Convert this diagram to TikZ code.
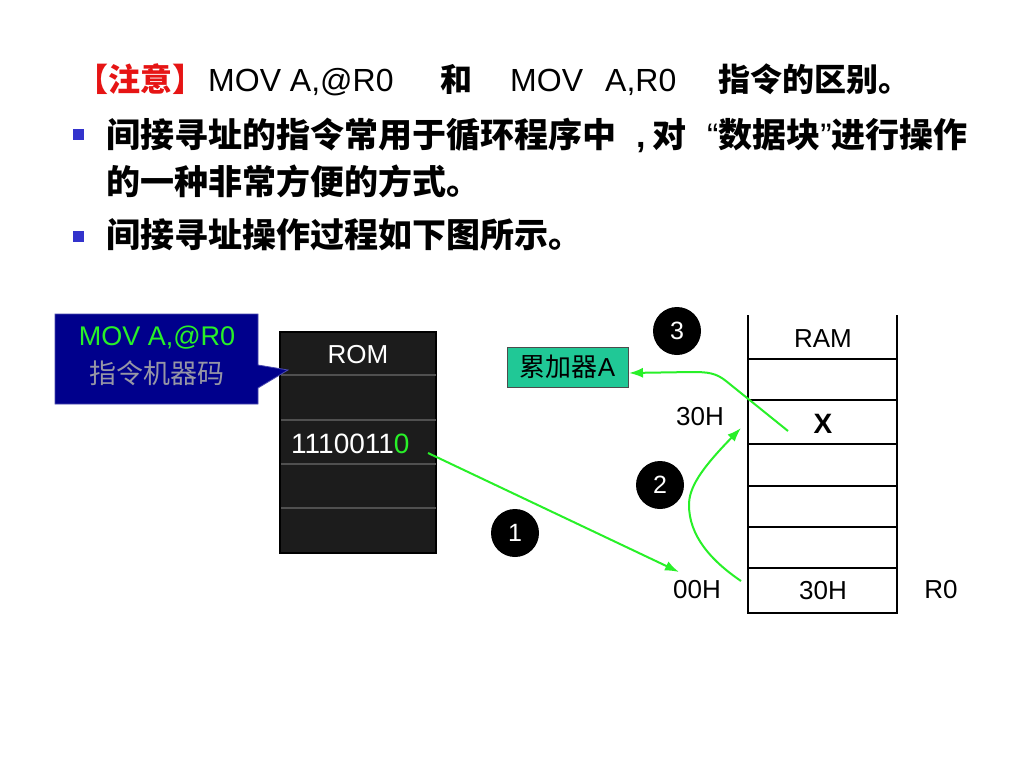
\documentclass[tikz,border=0pt]{standalone}
\usepackage{fontspec}
\setmainfont{Liberation Sans}
\newfontfamily\cjk{Noto Sans CJK SC}
\usetikzlibrary{arrows.meta}
\definecolor{titlered}{RGB}{230,20,20}
\definecolor{bulletblue}{RGB}{51,51,204}
\definecolor{calloutblue}{RGB}{0,0,140}
\definecolor{brightgreen}{RGB}{40,240,40}
\definecolor{accteal}{RGB}{32,200,150}
\definecolor{romfill}{RGB}{28,28,28}
\definecolor{romline}{RGB}{80,80,80}
\definecolor{embossgray}{RGB}{150,150,165}
\tikzset{
  big/.style={inner sep=0pt, font=\fontsize{32}{38}\selectfont, anchor=base west},
  bul/.style={inner sep=0pt, font=\fontsize{34}{40}\selectfont, anchor=base west},
  bsq/.style={fill=bulletblue, minimum size=11pt, inner sep=0pt},
  lbl/.style={inner sep=0pt, font=\fontsize{26}{30}\selectfont},
  numcirc/.style={circle, fill=black, minimum size=48pt, inner sep=0pt, text=white, font=\fontsize{25}{28}\selectfont},
  garrow/.style={draw=brightgreen, line width=2pt, -{Latex[length=14pt,width=10pt]}},
  ramv/.style={line width=2.6pt},
  ramh/.style={line width=1.6pt},
}
\begin{document}
\begin{tikzpicture}[x=1pt,y=-1pt]
\useasboundingbox[fill=white] (0,0) rectangle (1024,768);

% title line
\node[big, text=titlered] (t1) at (76,91) {\cjk\bfseries 【注意】};
\node[big] (t2) at (208,91) {MOV A,@R0};
\node[big] (t3) at (440,91) {\cjk\bfseries 和};
\node[big] (t4) at (510,91) {MOV};
\node[big] (t5) at (605,91) {A,R0};
\node[big] (t6) at (718,91) {\cjk\bfseries 指令的区别。};

% bullets
\node[bsq] (b1) at (78,134) {};
\node[bul] (l1a) at (106,147) {\cjk\bfseries 间接寻址的指令常用于循环程序中};
\node[bul] (l1c) at (636,147) {\bfseries ,};
\node[bul] (l1d) at (652,147) {\cjk\bfseries 对};
\node[bul, anchor=base east] (l1b) at (968,147) {“{\cjk\bfseries 数据块}”{\cjk\bfseries 进行操作}};
\node[bul] (l2) at (106,194) {\cjk\bfseries 的一种非常方便的方式。};
\node[bsq] (b2) at (78,236) {};
\node[bul] (l3) at (106,247) {\cjk\bfseries 间接寻址操作过程如下图所示。};

% ROM
\node[draw=black, line width=2pt, fill=romfill, minimum width=156pt, minimum height=221pt, inner sep=0pt] (rom) at (358,442.5) {};
\foreach \yy in {375,420,464,508}
  \draw[romline, line width=1.2pt] (281,\yy) -- (436,\yy);
\node[lbl, text=white] (romt) at (358,355) {ROM};
\node[lbl, text=white, anchor=base west, font=\fontsize{28}{30}\selectfont] (bits) at (291,453) {1110011\textcolor{brightgreen}{0}};

% callout
\draw[draw=calloutblue!70!white, line width=0.8pt, fill=calloutblue]
  (55,314) -- (258,314) -- (258,365) -- (288,370) -- (258,388) -- (258,404) -- (55,404) -- cycle;
\node[inner sep=0pt, text=brightgreen, font=\fontsize{27}{30}\selectfont] (cm1) at (157,338) {MOV A,@R0};
\node[inner sep=0pt, text=embossgray, font=\fontsize{27}{30}\selectfont\cjk] (cm2) at (157,373) {指令机器码};

% RAM
\foreach \yy in {359,400,444,486,527,568}
  \draw[ramh] (748,\yy) -- (897,\yy);
\draw[ramv] (748,315) -- (748,613) -- (897,613) -- (897,315);
\node[lbl] (ramt) at (823,339) {RAM};
\node[lbl, font=\fontsize{28}{30}\selectfont\bfseries] (x) at (823,424) {X};
\node[lbl] (r30) at (823,591) {30H};
\node[lbl] (l30) at (700,417) {30H};
\node[lbl] (l00) at (697,590) {00H};
\node[lbl] (r0) at (941,590) {R0};

% accumulator
\node[draw=black!70, line width=0.8pt, fill=accteal, minimum width=121pt, minimum height=40pt, inner sep=0pt, font=\fontsize{26}{30}\selectfont] (acc) at (567.5,367) {{\cjk 累加器}A};

% numbered circles
\node[numcirc] (n1) at (515,533) {1};
\node[numcirc] (n2) at (660,485) {2};
\node[numcirc] (n3) at (677,331) {3};

% arrows
\coordinate (a1s) at (428,453);
\coordinate (a1e) at (679,572);
\draw[garrow] (a1s) -- (a1e);

\coordinate (a2s) at (741,581);
\coordinate (a2e) at (741,428);
\draw[garrow] (a2s) .. controls (710,560) and (689,535) .. (689,505)
  .. controls (689,488) and (700,470) .. (a2e);

\coordinate (a3s) at (788,431);
\coordinate (a3e) at (629,373);
\draw[garrow] (a3s) -- (726,381) .. controls (716,373) and (708,372) .. (692,372) -- (a3e);
\end{tikzpicture}
\end{document}
